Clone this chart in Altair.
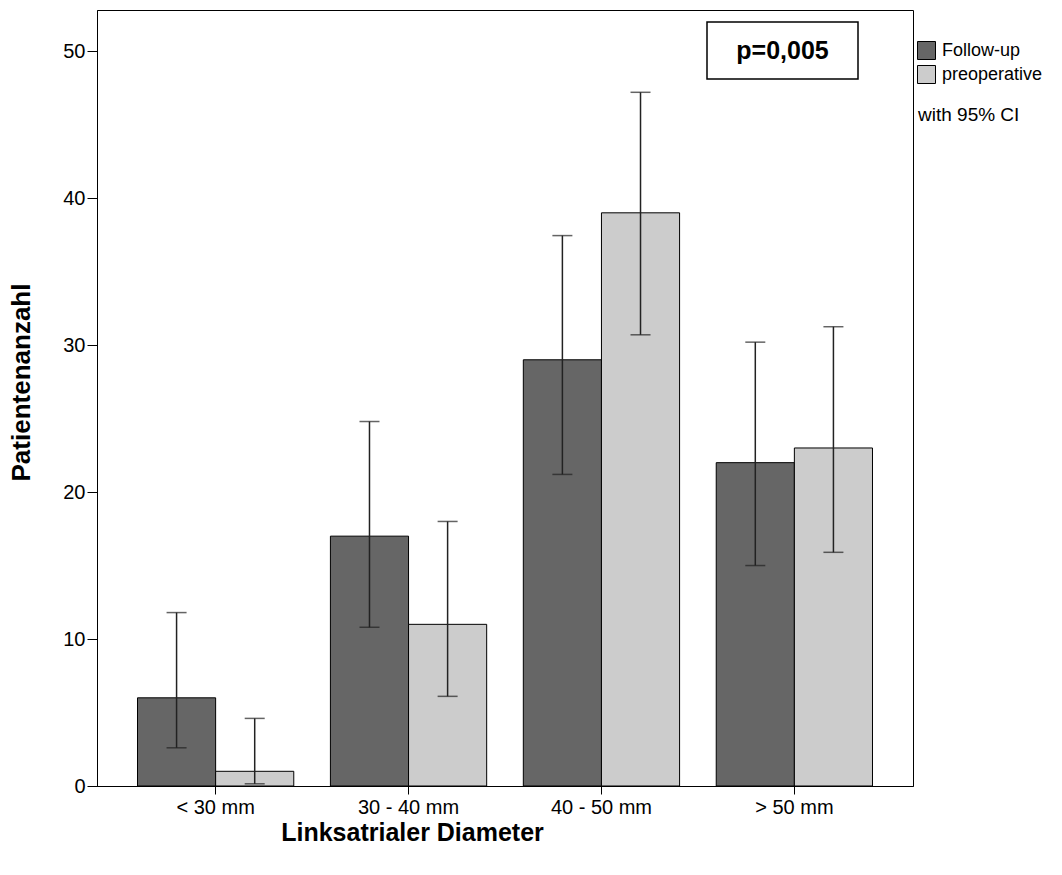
import altair as alt
import pandas as pd

categories = ["< 30 mm", "30 - 40 mm", "40 - 50 mm", "> 50 mm"]
groups = ["Follow-up", "preoperative"]
follow_up = [6, 17, 29, 22]
follow_up_lo = [2.6, 10.8, 21.2, 15.0]
follow_up_hi = [11.8, 24.8, 37.45, 30.2]
preop = [1, 11, 39, 23]
preop_lo = [0.15, 6.1, 30.7, 15.9]
preop_hi = [4.6, 18.0, 47.2, 31.25]
colors = ["#666666", "#cccccc"]

rows = []
for i, c in enumerate(categories):
    rows.append({"cat": c, "grp": groups[0], "val": follow_up[i], "lo": follow_up_lo[i], "hi": follow_up_hi[i]})
    rows.append({"cat": c, "grp": groups[1], "val": preop[i], "lo": preop_lo[i], "hi": preop_hi[i]})
df = pd.DataFrame(rows)

FONT = "Liberation Sans"

x = alt.X("cat:N", sort=categories,
          scale=alt.Scale(paddingInner=0.19, paddingOuter=0.21),
          axis=alt.Axis(title="Linksatrialer Diameter", labelAngle=0, labelFontSize=20,
                        labelColor="#000", labelPadding=3, tickSize=8, tickColor="#000",
                        domainColor="#000", titleFontSize=25, titleFontWeight="bold",
                        titleColor="#000", titleX=315, titleY=46, titleAlign="center",
                        titleBaseline="middle", labelFont=FONT, titleFont=FONT))
xo = alt.XOffset("grp:N", sort=groups, scale=alt.Scale(paddingInner=0, paddingOuter=0))
y = alt.Y("val:Q", scale=alt.Scale(domain=[0, 52.8], nice=False),
          axis=alt.Axis(title="Patientenanzahl", values=[0, 10, 20, 30, 40, 50], grid=False,
                        labelFontSize=20, labelColor="#000", labelPadding=2, tickSize=10,
                        tickColor="#000", domainColor="#000", titleFontSize=26,
                        titleFontWeight="bold", titleColor="#000", titleX=-76, titleY=372,
                        titleAlign="center", titleBaseline="middle", titleAngle=270,
                        labelFont=FONT, titleFont=FONT))

color = alt.Color("grp:N", sort=groups, scale=alt.Scale(domain=groups, range=colors),
                  legend=alt.Legend(title=None, orient="none", legendX=820, legendY=31,
                                    symbolType="square", symbolSize=324,
                                    symbolStrokeColor="#000", symbolStrokeWidth=1,
                                    symbolOpacity=1, labelFontSize=18, labelFont=FONT,
                                    labelColor="#000", labelOffset=6, rowPadding=1,
                                    padding=0))

base = alt.Chart(df)

bars = base.mark_bar(stroke="#000", strokeWidth=1, opacity=1).encode(
    x=x, xOffset=xo, y=y, color=color)

err = base.mark_rule(color="#222", strokeWidth=1.5).encode(
    x=alt.X("cat:N", sort=categories), xOffset=alt.XOffset("grp:N", sort=groups),
    y=alt.Y("lo:Q"), y2="hi:Q")

cap_hi = base.mark_tick(color="#222", thickness=1.5, size=20).encode(
    x=alt.X("cat:N", sort=categories), xOffset=alt.XOffset("grp:N", sort=groups),
    y=alt.Y("hi:Q"))
cap_lo = base.mark_tick(color="#222", thickness=1.5, size=20).encode(
    x=alt.X("cat:N", sort=categories), xOffset=alt.XOffset("grp:N", sort=groups),
    y=alt.Y("lo:Q"))

anno = pd.DataFrame({"t": ["p=0,005"]})
box = alt.Chart(anno).mark_rect(fill="#fff", stroke="#000", strokeWidth=1.5).encode(
    x=alt.value(610), x2=alt.value(761), y=alt.value(12), y2=alt.value(69))
ptext = alt.Chart(anno).mark_text(fontSize=25, fontWeight="bold", font=FONT, color="#000",
                                  align="center", baseline="middle").encode(
    text="t:N", x=alt.value(685.5), y=alt.value(41))

ci = pd.DataFrame({"t": ["with 95% CI"]})
citext = alt.Chart(ci).mark_text(fontSize=19, font=FONT, color="#000", align="left",
                                 baseline="middle").encode(
    text="t:N", x=alt.value(821), y=alt.value(105))

chart = alt.layer(bars, err, cap_hi, cap_lo, box, ptext, citext).properties(
    width=816, height=776,
    padding={"left": 97, "top": 10, "right": 149, "bottom": 89},
    autosize=alt.AutoSizeParams(type="none"),
).configure(
    background="#fff",
    view=alt.ViewConfig(stroke="#000", strokeWidth=1),
)

chart.save("out.html", embed_options={"renderer": "svg", "actions": False})
